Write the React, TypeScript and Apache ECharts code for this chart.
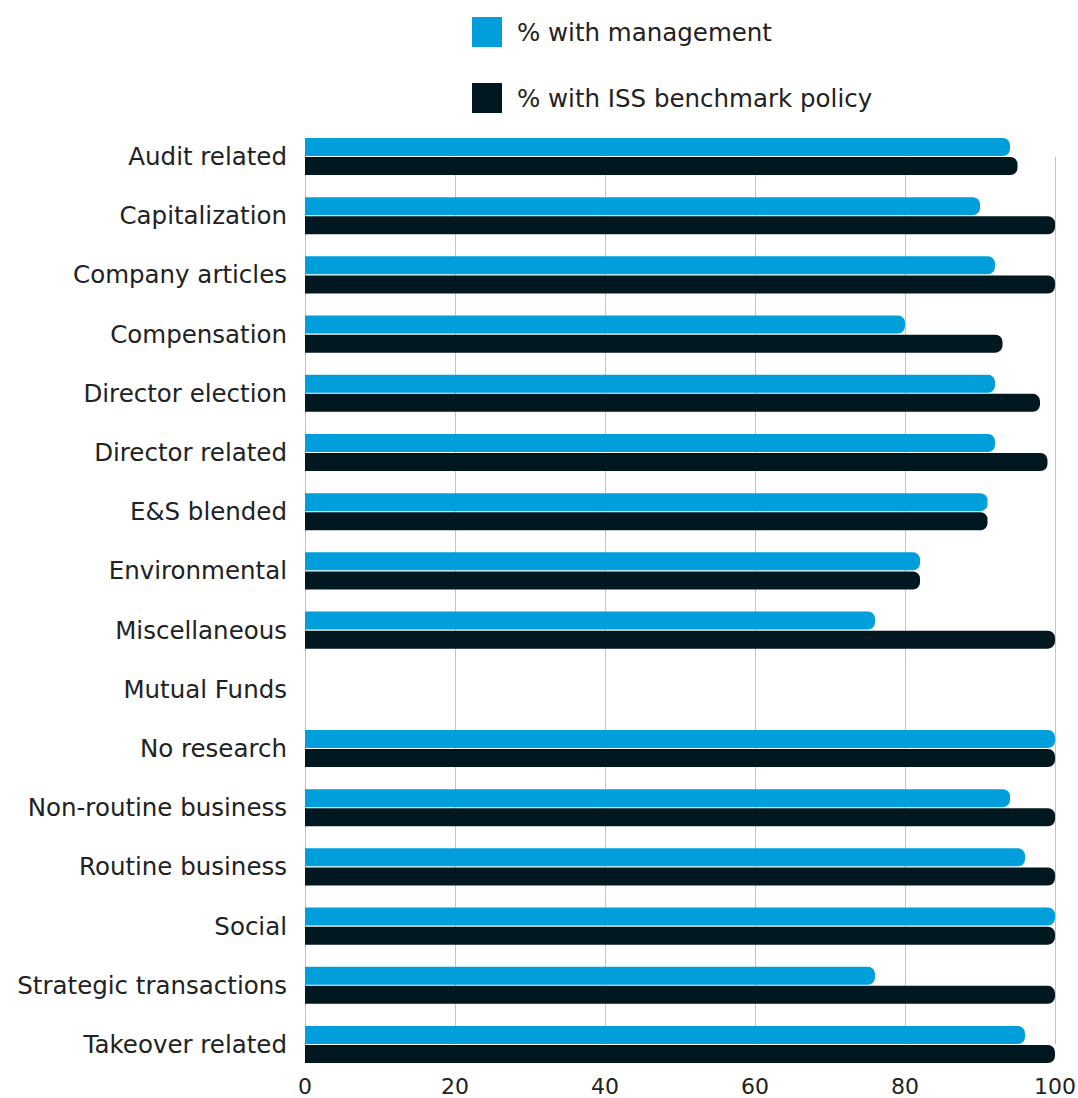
import React, { useEffect, useRef } from "react";
import * as echarts from "echarts";

const categories = [
  "Audit related",
  "Capitalization",
  "Company articles",
  "Compensation",
  "Director election",
  "Director related",
  "E&S blended",
  "Environmental",
  "Miscellaneous",
  "Mutual Funds",
  "No research",
  "Non-routine business",
  "Routine business",
  "Social",
  "Strategic transactions",
  "Takeover related",
];
const withManagement = [94, 90, 92, 80, 92, 92, 91, 82, 76, null, 100, 94, 96, 100, 76, 96];
const withISS = [95, 100, 100, 93, 98, 99, 91, 82, 100, null, 100, 100, 100, 100, 100, 100];
const xTicks = [0, 20, 40, 60, 80, 100];

const FONT = "'DejaVu Sans', sans-serif";

export default function App() {
  const ref = useRef<HTMLDivElement>(null);
  useEffect(() => {
    document.documentElement.style.overflow = "hidden";
    document.body.style.overflow = "hidden";
    document.body.style.margin = "0";
    if (!ref.current) return;
    const chart = echarts.init(ref.current, null, { renderer: "svg" });
    chart.setOption({
      animation: false,
      textStyle: { fontFamily: FONT },
      legend: {
        orient: "vertical",
        left: 467,
        top: 12,
        itemWidth: 30,
        itemHeight: 30,
        itemGap: 36,
        icon: "rect",
        textStyle: { fontSize: 24.5, color: "#222", fontFamily: FONT, padding: [0, 0, 0, 10] },
        data: ["% with management", "% with ISS benchmark policy"],
      },
      grid: {
        left: 305,
        top: 156.5,
        width: 750,
        height: 888,
        containLabel: false,
        outerBoundsMode: "none",
      },
      xAxis: {
        type: "value",
        min: xTicks[0],
        max: xTicks[xTicks.length - 1],
        interval: 20,
        offset: 19.5,
        axisLine: { show: false },
        axisTick: { show: false },
        axisLabel: { fontSize: 22, color: "#222", margin: 11, fontFamily: FONT },
        splitLine: { show: true, lineStyle: { color: "#c4c4c4", width: 1 } },
      },
      yAxis: {
        type: "category",
        data: categories,
        inverse: true,
        boundaryGap: false,
        axisLine: { show: true, lineStyle: { color: "#c4c4c4" } },
        axisTick: { show: false },
        axisLabel: { fontSize: 24.5, color: "#222", margin: 18, fontFamily: FONT },
        splitLine: { show: false },
      },
      series: [
        {
          name: "% with management",
          type: "bar",
          data: withManagement,
          barWidth: 18,
          barGap: "6%",
          itemStyle: { color: "#009FDB", borderRadius: [0, 7, 7, 0] },
        },
        {
          name: "% with ISS benchmark policy",
          type: "bar",
          data: withISS,
          barWidth: 18,
          barGap: "6%",
          itemStyle: { color: "#021820", borderRadius: [0, 7, 7, 0] },
        },
      ],
    });
    return () => chart.dispose();
  }, []);
  return <div ref={ref} style={{ width: 1078, height: 1098 }} />;
}
